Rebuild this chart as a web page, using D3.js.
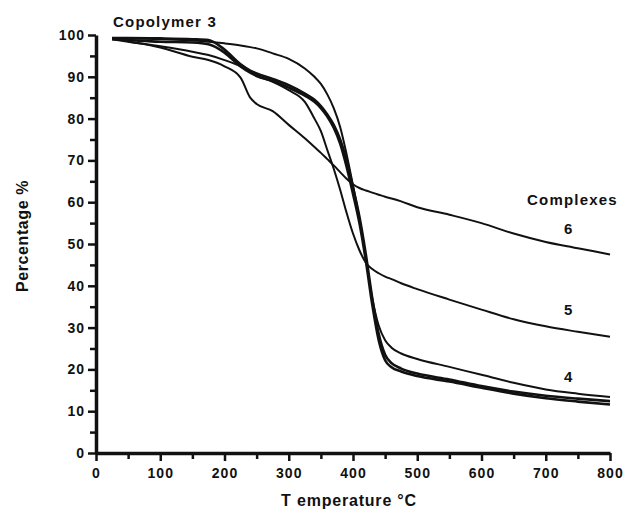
<!DOCTYPE html>
<html>
<head>
<meta charset="utf-8">
<script src="https://cdn.jsdelivr.net/npm/d3@7"></script>
<style>
  body { margin: 0; background: #fff; }
  svg text { font-family: "Liberation Sans", Arial, sans-serif; font-weight: bold; fill: #111; }
</style>
</head>
<body>
<svg id="chart" width="623" height="512"></svg>
<script>
// temperature grid (°C) shared by every curve
var temps = [25, 50, 100, 150, 175, 200, 225, 240, 250, 275, 300, 325, 340, 350, 360, 370, 380, 390, 400, 410, 420, 430, 440, 450, 460, 475, 500, 550, 600, 650, 700, 750, 800];

// weight percentage
var curveA = [99.2, 99.2, 99, 98.7, 98.4, 98, 97.5, 97.1, 96.8, 95.6, 94.3, 92, 90, 88.3, 85.8, 82.5, 78, 71.5, 64, 56, 46.5, 37, 30.5, 27, 25.2, 23.8, 22.5, 20.6, 18.7, 16.8, 15.2, 14.2, 13.4];
var copolymer3 = [99.3, 99.3, 99.2, 99, 98.8, 96.5, 93, 91.5, 90.8, 89.5, 88, 86, 84.5, 83, 81, 78.5, 75, 70, 63.5, 56.5, 47.5, 37, 28.5, 23.5, 21.5, 20.2, 19, 17.6, 16, 14.7, 13.7, 13, 12.4];
var complex4 = [99, 98.8, 98.4, 98.2, 97.8, 95.8, 92.5, 91, 90.2, 89, 87.4, 85.5, 84, 82.5, 80.5, 77.8, 74, 68.5, 62, 55, 46, 35.5, 27, 22.2, 20.5, 19.5, 18.4, 17.1, 15.6, 14.2, 13.1, 12.3, 11.6];
var complex5 = [99, 98.4, 97.3, 96, 95.2, 94, 92.5, 91.2, 90.3, 88.8, 86.8, 84, 80, 77, 72.5, 68, 63, 57.5, 52.5, 48.5, 45.5, 44, 43, 42.2, 41.6, 40.6, 39.2, 36.7, 34.3, 32, 30.3, 29, 27.8];
var complex6 = [99.2, 98.5, 97, 94.8, 94, 92.5, 89.8, 85, 83.5, 81.8, 78.5, 75.3, 73.2, 71.8, 70.3, 68.8, 67.2, 65.6, 64.3, 63.4, 62.8, 62.3, 61.8, 61.3, 60.9, 60.2, 58.8, 57, 55, 52.5, 50.5, 49, 47.5];

var xTicks = [0, 100, 200, 300, 400, 500, 600, 700, 800];
var yTicks = [0, 10, 20, 30, 40, 50, 60, 70, 80, 90, 100];

// curve labels (text, temperature, percentage where the number sits)
var labelText = ["6", "5", "4"];
var labelT = [735, 735, 735];
var labelP = [53.6, 34.2, 18.2];

var series = [
  { name: "A", values: curveA, w: 2 },
  { name: "3", values: copolymer3, w: 2.6 },
  { name: "4", values: complex4, w: 2.6 },
  { name: "5", values: complex5, w: 2 },
  { name: "6", values: complex6, w: 2 }
];

var margin = { left: 96, top: 35, right: 13, bottom: 59 };
var width = 623 - margin.left - margin.right;
var height = 512 - margin.top - margin.bottom;

var svg = d3.select("#chart");
var g = svg.append("g").attr("transform", "translate(" + margin.left + "," + margin.top + ")");

var x = d3.scaleLinear().domain([0, 800]).range([0, width]);
var y = d3.scaleLinear().domain([0, 100]).range([height, 0]);

// curves
var line = d3.line()
  .x(function(d, i) { return x(temps[i]); })
  .y(function(d) { return y(d); })
  .curve(d3.curveMonotoneX);

g.selectAll("path.curve").data(series).enter().append("path")
  .attr("class", "curve")
  .attr("d", function(s) { return line(s.values); })
  .attr("fill", "none")
  .attr("stroke", "#111")
  .attr("stroke-width", function(s) { return s.w; })
  .attr("stroke-linejoin", "round");

// minor ticks first, then the real axes on top
var xMinor = d3.range(50, 800, 100);
var yMinor = d3.range(5, 100, 10);

g.append("g").attr("transform", "translate(0," + height + ")")
  .call(d3.axisBottom(x).tickValues(xMinor).tickSize(6).tickFormat(""))
  .call(function(a) { a.select(".domain").remove(); a.selectAll("line").attr("stroke-width", 2.5).attr("stroke", "#111"); });

g.append("g")
  .call(d3.axisLeft(y).tickValues(yMinor).tickSize(6).tickFormat(""))
  .call(function(a) { a.select(".domain").remove(); a.selectAll("line").attr("stroke-width", 2.5).attr("stroke", "#111"); });

var xAxis = g.append("g").attr("transform", "translate(0," + height + ")")
  .call(d3.axisBottom(x).tickValues(xTicks).tickSize(8).tickSizeOuter(0).tickPadding(7));
var yAxis = g.append("g")
  .call(d3.axisLeft(y).tickValues(yTicks).tickSize(8).tickSizeOuter(0).tickPadding(3));

[xAxis, yAxis].forEach(function(a) {
  a.select(".domain").attr("stroke", "#111").attr("stroke-width", 3.5);
  a.selectAll(".tick line").attr("stroke", "#111").attr("stroke-width", 2.5);
  a.selectAll(".tick text").style("font-size", "14px").style("font-weight", "bold")
    .style("letter-spacing", "1px").attr("fill", "#111");
});

// titles and labels
svg.append("text").attr("x", 113).attr("y", 27).style("font-size", "15px")
  .style("letter-spacing", "1.2px").text("Copolymer 3");

svg.append("text")
  .attr("transform", "translate(28,236) rotate(-90)")
  .attr("text-anchor", "middle").style("font-size", "16px").style("letter-spacing", "0.6px").text("Percentage %");

svg.append("text").attr("x", 349).attr("y", 506).attr("text-anchor", "middle")
  .style("font-size", "16px").style("letter-spacing", "0.8px").text("T emperature  °C");

svg.append("text").attr("x", 527).attr("y", 205).style("font-size", "15px")
  .style("letter-spacing", "1.2px").text("Complexes");

g.selectAll("text.lab").data(labelText).enter().append("text")
  .attr("class", "lab")
  .attr("x", function(d, i) { return x(labelT[i]); })
  .attr("y", function(d, i) { return y(labelP[i]); })
  .attr("dy", "0.35em")
  .attr("text-anchor", "middle")
  .style("font-size", "15px")
  .text(function(d) { return d; });
</script>
</body>
</html>
